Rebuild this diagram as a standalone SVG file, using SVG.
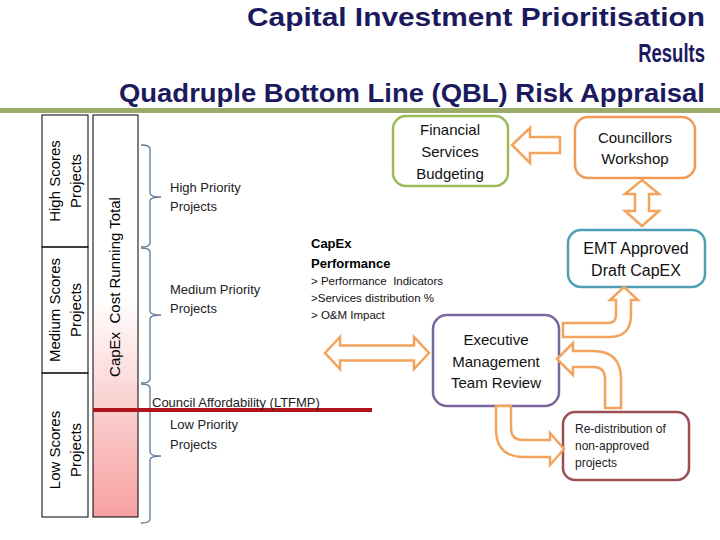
<svg xmlns="http://www.w3.org/2000/svg" width="720" height="540" viewBox="0 0 720 540">
<defs>
<linearGradient id="runGrad" x1="0" y1="0" x2="0" y2="1">
<stop offset="0" stop-color="#ffffff"/>
<stop offset="0.45" stop-color="#ffffff"/>
<stop offset="1" stop-color="#f7a0a0"/>
</linearGradient>
<style>
text{font-family:"Liberation Sans",Arial,sans-serif;}
.title{font-size:25px;font-weight:bold;fill:#1c1a5e;text-anchor:end;}
.col{fill:none;stroke:#000;stroke-width:1;}
.rot{font-size:15px;fill:#000;text-anchor:middle;}
.brace{fill:none;stroke:#5f7b98;stroke-width:1.3;}
.lbl{font-size:13px;fill:#222;}
.small{font-size:11.5px;fill:#111;}
.bold{font-size:13px;font-weight:bold;fill:#000;}
.box{fill:#fff;stroke-width:2.5;}
.bt{font-size:15px;fill:#111;text-anchor:middle;}
.arr{fill:#fff;stroke:#f2a45c;stroke-width:2.5;stroke-linejoin:miter;}
</style>
</defs>
<rect width="720" height="540" fill="#fff"/>

<g id="title">
<text class="title" x="705" y="26" textLength="458" lengthAdjust="spacingAndGlyphs">Capital Investment Prioritisation</text>
<text class="title" transform="translate(705,62) scale(0.74,1)" x="0" y="0">Results</text>
<text class="title" x="705" y="102" textLength="586" lengthAdjust="spacingAndGlyphs">Quadruple Bottom Line (QBL) Risk Appraisal</text>
<rect x="0" y="108" width="720" height="5" fill="#9aab6b"/>
</g>

<g id="score-high">
<rect class="col" x="42" y="115" width="46" height="132"/>
<text class="rot" transform="translate(60,181) rotate(-90)">High Scores</text>
<text class="rot" transform="translate(81,181) rotate(-90)">Projects</text>
</g>
<g id="score-medium">
<rect class="col" x="42" y="247" width="46" height="126"/>
<text class="rot" transform="translate(60,310) rotate(-90)">Medium Scores</text>
<text class="rot" transform="translate(81,310) rotate(-90)">Projects</text>
</g>
<g id="score-low">
<rect class="col" x="42" y="373" width="46" height="144"/>
<text class="rot" transform="translate(60,450) rotate(-90)">Low Scores</text>
<text class="rot" transform="translate(81,450) rotate(-90)">Projects</text>
</g>

<g id="running-total">
<rect x="93" y="115" width="45" height="402" fill="url(#runGrad)" stroke="#000" stroke-width="1"/>
<text class="rot" transform="translate(120,287) rotate(-90)" xml:space="preserve">CapEx  Cost Running Total</text>
</g>

<g id="braces">
<path class="brace" d="M141,145 Q150,145 150,149 V193 Q150,197 161,197 Q150,197 150,201 V243 Q150,247 141,247"/>
<path class="brace" d="M141,248 Q150,248 150,252 V311 Q150,315 161,315 Q150,315 150,319 V379 Q150,383 141,383"/>
<path class="brace" d="M141,384 Q150,384 150,388 V452 Q150,456 161,456 Q150,456 150,460 V519 Q150,523 141,523"/>
</g>

<g id="priority-high">
<text class="lbl" x="170" y="192">High Priority</text>
<text class="lbl" x="170" y="211">Projects</text>
</g>
<g id="priority-medium">
<text class="lbl" x="170" y="294">Medium Priority</text>
<text class="lbl" x="170" y="313">Projects</text>
</g>
<g id="affordability">
<line x1="93" y1="410" x2="372" y2="410" stroke="#b0141a" stroke-width="4"/>
<text class="lbl" x="152" y="407">Council Affordability (LTFMP)</text>
</g>
<g id="priority-low">
<text class="lbl" x="170" y="429">Low Priority</text>
<text class="lbl" x="170" y="449">Projects</text>
</g>

<g id="capex-performance">
<text class="bold" x="311" y="248">CapEx</text>
<text class="bold" x="311" y="268">Performance</text>
<text class="small" x="311" y="285" xml:space="preserve">&gt; Performance  Indicators</text>
<text class="small" x="311" y="302">&gt;Services distribution %</text>
<text class="small" x="311" y="319">&gt; O&amp;M Impact</text>
</g>

<g id="financial-services">
<rect class="box" x="393" y="116" width="115" height="70" rx="13" stroke="#9bbb59"/>
<text class="bt" x="450" y="135">Financial</text>
<text class="bt" x="450" y="157">Services</text>
<text class="bt" x="450" y="179">Budgeting</text>
</g>
<g id="councillors-workshop">
<rect class="box" x="575" y="117" width="120" height="61" rx="13" stroke="#f29a55"/>
<text class="bt" x="635" y="143">Councillors</text>
<text class="bt" x="635" y="164">Workshop</text>
</g>
<g id="emt-approved">
<rect class="box" x="568" y="230" width="137" height="57" rx="13" stroke="#4f9fb4"/>
<text class="bt" x="636" y="254" style="font-size:16px">EMT Approved</text>
<text class="bt" x="636" y="276" style="font-size:16px">Draft CapEX</text>
</g>
<g id="executive-review">
<rect class="box" x="433" y="315" width="126" height="91" rx="14" stroke="#7b679c"/>
<text class="bt" x="496" y="345">Executive</text>
<text class="bt" x="496" y="367">Management</text>
<text class="bt" x="496" y="388">Team Review</text>
</g>
<g id="redistribution">
<rect class="box" x="563" y="412" width="126" height="68" rx="12" stroke="#9b4f52"/>
<text class="lbl" x="575" y="433" style="font-size:12px">Re-distribution of</text>
<text class="lbl" x="575" y="450" style="font-size:12px">non-approved</text>
<text class="lbl" x="575" y="467" style="font-size:12px">projects</text>
</g>

<g id="connectors">
<path class="arr" d="M512,145 L530,128 L530,137 L560,137 L560,153 L530,153 L530,163 Z"/>
<path class="arr" d="M642,180 L659,194 L649,194 L649,211 L659,211 L642,226 L625,211 L635,211 L635,194 L625,194 Z"/>
<path class="arr" d="M325,353 L340,337 L340,345.5 L414,345.5 L414,337 L429,353 L414,369 L414,360.5 L340,360.5 L340,369 Z"/>
<path class="arr" d="M563,323 L608,323 Q616,323 616,315 L616,300 L610,300 L624,287 L638,300 L631,300 L631,315 Q631,337 609,337 L563,337 Z"/>
<path class="arr" d="M557,359 L573,343 L573,351 L593,351 Q621,351 621,379 L621,408 L605,408 L605,379 Q605,367 593,367 L573,367 L573,375 Z"/>
<path class="arr" d="M496,406 L511,406 L511,428 Q511,440 523,440 L550,440 L550,433 L564,449 L550,465 L550,457 L524,457 Q496,457 496,429 Z"/>
</g>
</svg>
